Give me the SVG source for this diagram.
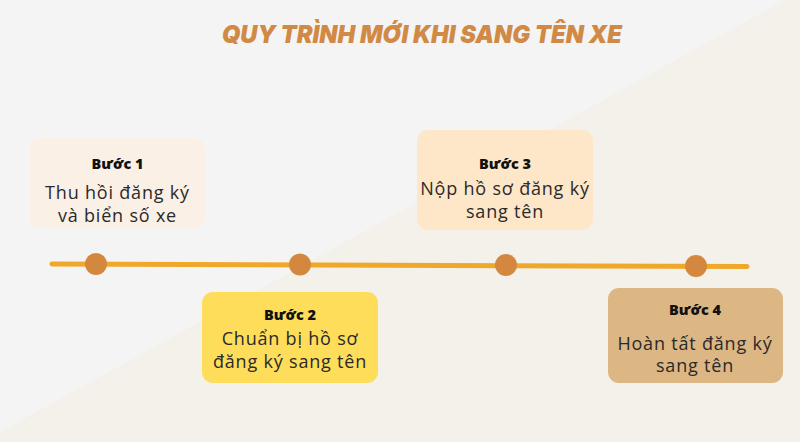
<svg xmlns="http://www.w3.org/2000/svg" width="800" height="442" viewBox="0 0 800 442">
<style>
.box{stroke:none}
.hd{font-family:"Open Sans","Liberation Sans",sans-serif;font-weight:800;font-size:14.5px;fill:#111;text-anchor:middle}
.tx{font-family:"Open Sans","Liberation Sans",sans-serif;font-weight:400;font-size:18px;letter-spacing:0.8px;fill:#2a2a2a;text-anchor:middle}
.dot{fill:#d4883f}
</style>
<rect x="0" y="0" width="800" height="442" fill="#f4f4f4"/>
<polygon points="0,432 785,0 800,0 800,442 0,442" fill="#f4f0ea"/>
<text x="422" y="43" font-family="Inter,'Open Sans','Liberation Sans',sans-serif" font-weight="900" font-style="italic" font-size="25" fill="#d08a45" text-anchor="middle" textLength="400" lengthAdjust="spacingAndGlyphs">QUY TRÌNH MỚI KHI SANG TÊN XE</text>
<g id="connectors">
<line x1="52" y1="264" x2="747" y2="266.5" stroke="#f0a82a" stroke-width="5" stroke-linecap="round"/>
<circle class="dot" cx="96" cy="264" r="11"/>
<circle class="dot" cx="300" cy="264.5" r="11"/>
<circle class="dot" cx="506" cy="265" r="11"/>
<circle class="dot" cx="696" cy="266" r="11"/>
</g>
<g id="step1">
<rect class="box" x="30" y="138" width="175" height="90" rx="11" fill="#faf0e6"/>
<text class="hd" x="117.5" y="169">Bước 1</text>
<text class="tx" x="117.5" y="199">Thu hồi đăng ký</text>
<text class="tx" x="117.5" y="222">và biển số xe</text>
</g>
<g id="step2">
<rect class="box" x="202" y="292" width="176" height="91" rx="11" fill="#fedd5a"/>
<text class="hd" x="290" y="320">Bước 2</text>
<text class="tx" x="290" y="345">Chuẩn bị hồ sơ</text>
<text class="tx" x="290" y="368">đăng ký sang tên</text>
</g>
<g id="step3">
<rect class="box" x="417" y="130" width="176" height="100" rx="11" fill="#fde7c8"/>
<text class="hd" x="505" y="169">Bước 3</text>
<text class="tx" x="505" y="195">Nộp hồ sơ đăng ký</text>
<text class="tx" x="505" y="218">sang tên</text>
</g>
<g id="step4">
<rect class="box" x="608" y="288" width="175" height="95" rx="11" fill="#dcb683"/>
<text class="hd" x="695" y="315">Bước 4</text>
<text class="tx" x="695" y="350">Hoàn tất đăng ký</text>
<text class="tx" x="695" y="372">sang tên</text>
</g>
</svg>
